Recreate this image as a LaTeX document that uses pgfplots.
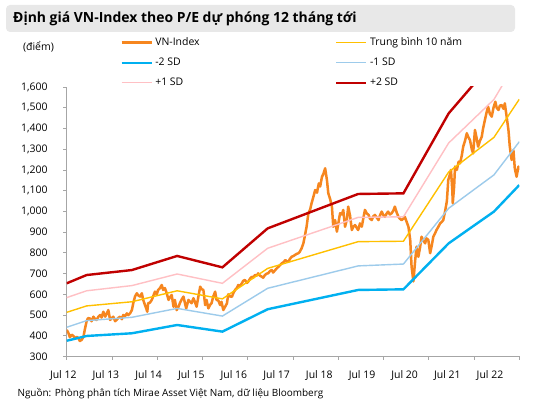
\documentclass[border=0pt]{standalone}
\usepackage{pgfplots}
\pgfplotsset{compat=1.18}
\usepackage{pgfplotstable}
\usepackage{fontspec}
\setmainfont{Open Sans}

\definecolor{vnorange}{RGB}{246,134,31}
\definecolor{avgyellow}{RGB}{255,192,0}
\definecolor{sdmtwo}{RGB}{0,176,240}
\definecolor{sdmone}{RGB}{157,203,235}
\definecolor{sdpone}{RGB}{255,192,196}
\definecolor{sdptwo}{RGB}{192,0,0}
\definecolor{axisgray}{RGB}{166,166,166}
\definecolor{titlebg}{RGB}{232,232,232}

% tick label centred #1/2 to the left of its tick
\newcommand{\shiftlab}[2]{\makebox[0pt]{\makebox[0pt]{#2}\hspace*{#1}}}

% Valuation bands (years since Jul 2012)
\pgfplotstableread{
t     m2    m1    avg   p1    p2
0.00  376   441   513   584   653
0.44  399   473   544   617   693
1.44  412   489   564   642   717
2.44  452   532   617   698   785
3.44  420   495   578   653   730
4.44  528   629   725   822   918
6.44  621   737   854   971   1084
7.44  624   746   856   974   1087
8.44  846   1015  1190  1330  1473
9.44  999   1176  1357  1540  1727
10.00 1127  1336  1541  1746  1955
}\bands

% VN-Index (years since Jul 2012)
\pgfplotstableread{
t     v
0.00  428
0.035 415
0.07  393
0.11  405
0.15  399
0.18  385
0.22  395
0.26  388
0.29  375
0.33  380
0.37  395
0.40  430
0.44  470
0.47  485
0.51  484
0.55  470
0.59  492
0.63  480
0.66  476
0.70  492
0.74  500
0.77  488
0.81  516
0.85  492
0.88  505
0.92  524
0.96  476
0.99  485
1.03  492
1.07  470
1.10  476
1.14  486
1.18  492
1.22  480
1.25  500
1.29  495
1.33  508
1.36  500
1.40  508
1.44  524
1.47  557
1.51  590
1.55  605
1.58  595
1.62  589
1.66  605
1.69  573
1.73  548
1.76  530
1.78  516
1.80  557
1.84  560
1.88  573
1.91  590
1.95  613
1.99  600
2.02  621
2.06  630
2.10  645
2.13  621
2.17  630
2.21  605
2.25  573
2.28  585
2.32  597
2.36  540
2.39  573
2.43  524
2.47  540
2.50  557
2.54  575
2.58  589
2.61  560
2.64  532
2.69  573
2.72  565
2.76  557
2.80  581
2.83  565
2.87  540
2.91  590
2.95  637
2.98  625
3.02  621
3.06  548
3.09  573
3.13  532
3.17  550
3.20  557
3.24  590
3.28  613
3.31  573
3.35  570
3.39  548
3.42  564
3.46  524
3.50  540
3.54  556
3.57  600
3.61  590
3.65  588
3.68  605
3.72  621
3.76  630
3.79  645
3.83  640
3.87  653
3.90  665
3.94  669
3.98  655
4.01  661
4.05  675
4.09  685
4.12  680
4.16  693
4.20  690
4.23  701
4.27  690
4.31  685
4.34  680
4.38  693
4.42  700
4.45  701
4.49  712
4.53  717
4.56  705
4.60  715
4.64  725
4.68  733
4.71  740
4.75  749
4.79  755
4.83  765
4.86  760
4.90  757
4.93  770
4.97  781
5.01  785
5.04  789
5.08  795
5.12  798
5.15  805
5.19  822
5.23  846
5.26  880
5.30  926
5.34  991
5.38  1010
5.41  1039
5.45  1070
5.49  1103
5.53  1090
5.57  1135
5.60  1120
5.64  1167
5.67  1180
5.71  1208
5.75  1151
5.78  1087
5.82  1060
5.86  1023
5.89  926
5.93  958
5.97  902
6.00  940
6.04  991
6.08  985
6.11  1007
6.15  926
6.19  960
6.22  1023
6.26  980
6.30  910
6.33  925
6.37  934
6.41  920
6.44  910
6.48  942
6.52  926
6.56  974
6.59  1007
6.63  990
6.67  983
6.70  965
6.74  958
6.77  975
6.81  983
6.85  970
6.89  958
6.92  980
6.96  999
7.00  980
7.03  974
7.07  990
7.10  999
7.14  985
7.18  991
7.22  1005
7.25  1023
7.29  995
7.33  974
7.36  965
7.40  958
7.44  965
7.47  974
7.51  950
7.55  926
7.59  862
7.62  733
7.66  662
7.70  765
7.73  830
7.77  781
7.81  830
7.84  878
7.88  860
7.92  846
7.95  870
7.99  862
8.03  798
8.07  840
8.10  878
8.14  895
8.17  910
8.21  925
8.25  942
8.29  950
8.32  958
8.36  1000
8.40  1050
8.43  1151
8.47  1180
8.49  1200
8.52  1100
8.53  1039
8.56  1120
8.58  1216
8.62  1200
8.66  1240
8.69  1232
8.73  1270
8.76  1312
8.80  1340
8.84  1377
8.87  1360
8.91  1344
8.95  1300
8.98  1280
9.02  1393
9.06  1350
9.09  1312
9.13  1340
9.17  1360
9.20  1400
9.24  1441
9.28  1480
9.31  1505
9.35  1470
9.39  1457
9.43  1500
9.47  1529
9.50  1500
9.54  1489
9.57  1510
9.61  1513
9.65  1495
9.68  1521
9.72  1457
9.76  1393
9.79  1312
9.83  1248
9.87  1296
9.90  1208
9.94  1167
9.98  1216
10.00 1200
}\vnindex

\begin{document}
\begin{tikzpicture}
\useasboundingbox (0,0) rectangle (555bp,409bp);
\fill[white] (0,0) rectangle (555bp,409bp);

% title bar
\fill[titlebg, rounded corners=4bp] (6bp,377bp) rectangle (515bp,404bp);
\node[anchor=base west, inner sep=0pt, font=\bfseries\fontsize{14}{16}\selectfont]
  at (13bp,386.3bp) {Định giá VN-Index theo P/E dự phóng 12 tháng tới};

% unit label
\node[font=\fontsize{10.5}{12}\selectfont] at (38.5bp,362.3bp) {(điểm)};

\begin{axis}[
  at={(66.7bp,52.5bp)}, anchor=south west,
  scale only axis, width=452.6bp, height=269.5bp,
  xmin=0, xmax=10, ymin=300, ymax=1600,
  axis x line*=bottom, axis y line*=left,
  axis line style={draw=axisgray, line width=0.8bp},
  tick align=outside, major tick length=3.5bp,
  tick style={draw=axisgray, line width=0.8bp},
  ytick={300,400,...,1600},
  xtick={0,...,10},
  xticklabels={\shiftlab{6.8bp}{Jul 12},
               \shiftlab{12.0bp}{Jul 13},
               \shiftlab{17.2bp}{Jul 14},
               \shiftlab{22.4bp}{Jul 15},
               \shiftlab{27.6bp}{Jul 16},
               \shiftlab{32.8bp}{Jul 17},
               \shiftlab{38.0bp}{Jul 18},
               \shiftlab{43.0bp}{Jul 19},
               \shiftlab{48.2bp}{Jul 20},
               \shiftlab{53.4bp}{Jul 21},
               \shiftlab{58.6bp}{Jul 22}},
  tick label style={font=\fontsize{10.5}{12}\selectfont, text=black},
  x tick label style={anchor=north, yshift=-7.5bp},
  y tick label style={anchor=east, xshift=-12bp},
  /pgf/number format/.cd, 1000 sep={,}, assume math mode=true,
  /pgfplots/.cd,
  legend columns=2,
  legend cell align=left,
  legend image code/.code={\draw[#1] (0bp,0bp) -- (30bp,0bp);},
  legend style={at={(axis description cs:0.118,1.193)}, anchor=north west,
    draw=none, fill=none, inner sep=0pt,
    font=\fontsize{10.5}{12}\selectfont, row sep=6bp,
    nodes={inner sep=2.5bp},
    /tikz/every even column/.append style={column sep=133bp}},
]
\addplot[vnorange, line width=2.5bp, line join=round] table[x=t, y=v] {\vnindex};
\addlegendentry{VN-Index}
\addplot[avgyellow, line width=1.4bp] table[x=t, y=avg] {\bands};
\addlegendentry{Trung bình 10 năm}
\addplot[sdmtwo, line width=2.4bp] table[x=t, y=m2] {\bands};
\addlegendentry{-2 SD}
\addplot[sdmone, line width=1.4bp] table[x=t, y=m1] {\bands};
\addlegendentry{-1 SD}
\addplot[sdpone, line width=1.4bp] table[x=t, y=p1] {\bands};
\addlegendentry{+1 SD}
\addplot[sdptwo, line width=2.4bp] table[x=t, y=p2] {\bands};
\addlegendentry{+2 SD}
\end{axis}

% source line
\node[anchor=west, font=\fontsize{10}{12}\selectfont] at (14bp,15bp)
  {Nguồn: Phòng phân tích Mirae Asset Việt Nam, dữ liệu Bloomberg};
\end{tikzpicture}
\end{document}
